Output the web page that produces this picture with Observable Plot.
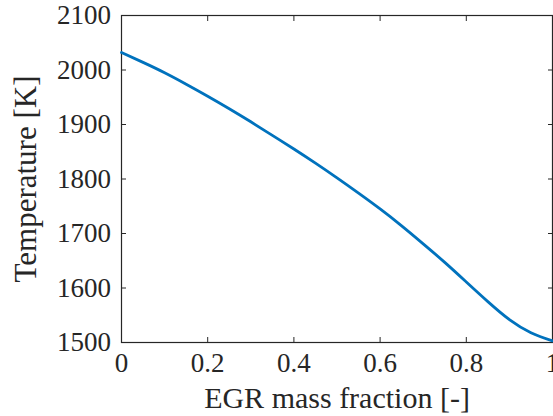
<!DOCTYPE html>
<html>
<head>
<meta charset="utf-8">
<script src="https://cdn.jsdelivr.net/npm/d3@7"></script>
<script src="https://cdn.jsdelivr.net/npm/@observablehq/plot@0.6"></script>
<style>
  html, body { margin: 0; padding: 0; background: #fff; }
  svg { display: block; }
</style>
</head>
<body>
<div id="chart"></div>
<script>
const egrFraction = [0, 0.05, 0.1, 0.15, 0.2, 0.25, 0.3, 0.35, 0.4, 0.45, 0.5, 0.55, 0.6, 0.65, 0.7, 0.75, 0.8, 0.85, 0.9, 0.95, 1.0];
const temperature = [2032, 2014, 1995, 1974, 1952, 1929, 1905, 1880, 1855, 1829, 1802, 1774, 1745, 1714, 1681, 1647, 1611, 1575, 1542, 1518, 1503];
const xTicks = [0, 0.2, 0.4, 0.6, 0.8, 1];
const xTickLabels = ["0", "0.2", "0.4", "0.6", "0.8", "1"];
const yTicks = [1500, 1600, 1700, 1800, 1900, 2000, 2100];
const yTickLabels = ["1500", "1600", "1700", "1800", "1900", "2000", "2100"];
const xLabel = "EGR mass fraction [-]";
const yLabel = "Temperature [K]";

const data = egrFraction.map((x, i) => ({x, t: temperature[i]}));
const xTickData = xTicks.map((v, i) => ({v, label: xTickLabels[i]}));
const yTickData = yTicks.map((v, i) => ({v, label: yTickLabels[i]}));
const axisColor = "#262626";
const font = "Liberation Serif";

const chart = Plot.plot({
  width: 553,
  height: 416,
  marginLeft: 121,
  marginRight: 1,
  marginTop: 15,
  marginBottom: 74,
  style: {background: "#fff", color: axisColor},
  x: {domain: [0, 1], axis: null},
  y: {domain: [1500, 2100], axis: null},
  marks: [
    Plot.frame({stroke: axisColor, strokeWidth: 1.2}),
    Plot.axisX(xTicks, {anchor: "bottom", tickSize: -5, label: null, stroke: axisColor, tickFormat: () => ""}),
    Plot.axisX(xTicks, {anchor: "top", tickSize: -5, label: null, stroke: axisColor, tickFormat: () => ""}),
    Plot.axisY(yTicks, {anchor: "left", tickSize: -5, label: null, stroke: axisColor, tickFormat: () => ""}),
    Plot.axisY(yTicks, {anchor: "right", tickSize: -5, label: null, stroke: axisColor, tickFormat: () => ""}),
    Plot.text(xTickData, {x: "v", text: "label", frameAnchor: "bottom", dy: 21, lineAnchor: "middle", textAnchor: "middle", fontSize: 27, fontFamily: font, fill: axisColor}),
    Plot.text(yTickData, {y: "v", text: "label", frameAnchor: "left", dx: -10.5, lineAnchor: "middle", textAnchor: "end", fontSize: 27, fontFamily: font, fill: axisColor}),
    Plot.line(data, {x: "x", y: "t", stroke: "#0072BD", strokeWidth: 2.8, curve: "natural"}),
    Plot.text([xLabel], {frameAnchor: "bottom", dy: 56, lineAnchor: "middle", textAnchor: "middle", fontSize: 30, fontFamily: font, fill: axisColor}),
    Plot.text([yLabel], {frameAnchor: "left", dx: -95, rotate: -90, lineAnchor: "middle", textAnchor: "middle", fontSize: 31, fontFamily: font, fill: axisColor})
  ]
});
document.getElementById("chart").appendChild(chart);
</script>
</body>
</html>
